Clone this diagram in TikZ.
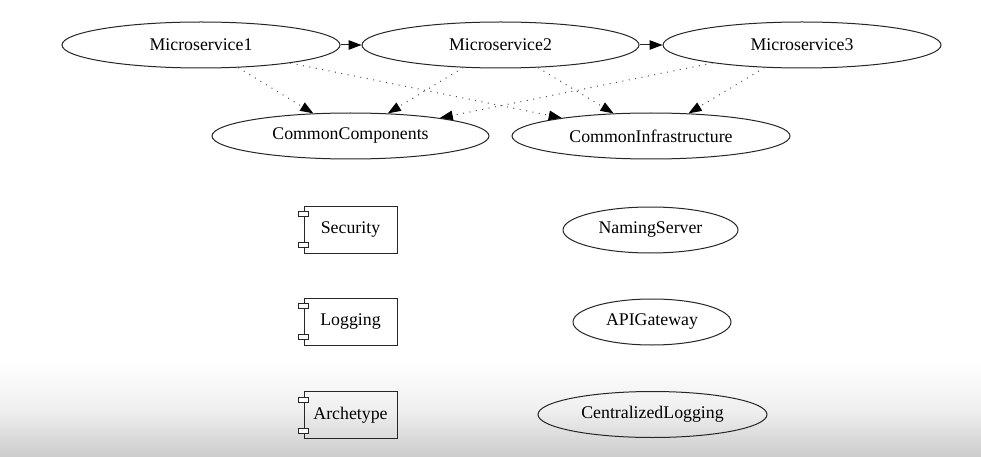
\documentclass[tikz,border=0pt]{standalone}
\usepackage{fontspec}
\setmainfont{Liberation Serif}
\usetikzlibrary{shapes.geometric,arrows.meta,calc}
\begin{document}
\begin{tikzpicture}[x=1pt,y=-1pt,
  lbl/.style={font=\fontsize{17.8}{20}\selectfont},
  ell/.style={lbl,ellipse,draw=black!85,line width=1pt,inner sep=0pt,minimum height=46pt},
  comp/.style={lbl,rectangle,draw=black!85,line width=1pt,inner sep=0pt,minimum width=93pt,minimum height=47pt},
  port/.style={draw=black!85,line width=0.8pt,fill=white},
  tip/.style={-{Triangle[length=13pt,width=9.5pt,color=black]}},
  dep/.style={tip,draw=black!70,line width=1pt,dash pattern=on 1pt off 5.5pt},
  flow/.style={tip,draw=black!85,line width=1pt}
]
\useasboundingbox (0,0) rectangle (981,457);
\fill[white] (0,0) rectangle (981,457);
\shade[top color=white,bottom color=black!20,middle color=black!6] (0,360) rectangle (981,457);

\node[ell,minimum width=278pt] (m1) at (201,45) {Microservice1};
\node[ell,minimum width=277pt] (m2) at (500.5,45) {Microservice2};
\node[ell,minimum width=278pt] (m3) at (802,45) {Microservice3};
\node[ell,minimum width=277pt] (cc) at (350.5,136) {CommonComponents};
\node[ell,minimum width=278pt] (ci) at (651,136) {CommonInfrastructure};
\node[ell,minimum width=175pt] (ns) at (650.5,230) {NamingServer};
\node[ell,minimum width=158pt] (api) at (652,322) {APIGateway};
\node[ell,minimum width=229pt] (cl) at (652.5,414.5) {CentralizedLogging};

\node[comp] (sec) at (350.5,229.5) {Security};
\node[comp] (log) at (350.5,321.5) {Logging};
\node[comp] (arch) at (350.5,415) {Archetype};

\foreach \n in {sec,log,arch}{
  \draw[port] ($(\n.north west)+(-5pt,-6pt)$) rectangle ++(10pt,-5pt);
  \draw[port] ($(\n.south west)+(-5pt,6pt)$) rectangle ++(10pt,5pt);
}

\draw[flow] (m1) -- (m2);
\draw[flow] (m2) -- (m3);
\draw[dep] (m1) -- (cc);
\draw[dep] (m1) -- (ci);
\draw[dep] (m2) -- (cc);
\draw[dep] (m2) -- (ci);
\draw[dep] (m3) -- (cc);
\draw[dep] (m3) -- (ci);
\end{tikzpicture}
\end{document}
